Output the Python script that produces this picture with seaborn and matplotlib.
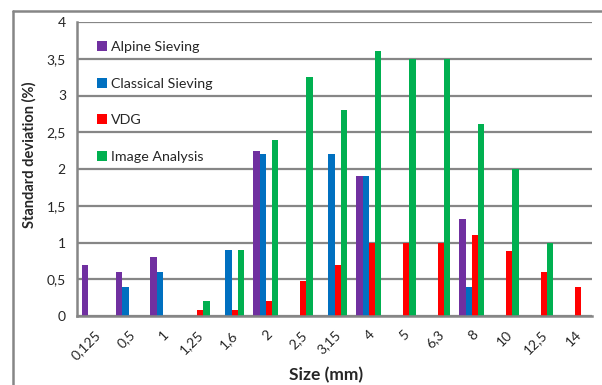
import numpy as np
import pandas as pd
import matplotlib
matplotlib.use("Agg")
import matplotlib.pyplot as plt
from matplotlib.lines import Line2D
from matplotlib.patches import Patch
import seaborn as sns

sizes = ["0,125", "0,5", "1", "1,25", "1,6", "2", "2,5", "3,15", "4", "5", "6,3", "8", "10", "12,5", "14"]
methods = ["Alpine Sieving", "Classical Sieving", "VDG", "Image Analysis"]
colors = ["#7030A0", "#0070C0", "#FF0000", "#00B050"]

alpine = [0.7, 0.6, 0.8, np.nan, np.nan, 2.25, np.nan, np.nan, 1.9, np.nan, np.nan, 1.32, np.nan, np.nan, np.nan]
classical = [np.nan, 0.4, 0.6, np.nan, 0.9, 2.2, np.nan, 2.2, 1.9, np.nan, np.nan, 0.4, np.nan, np.nan, np.nan]
vdg = [np.nan, np.nan, np.nan, 0.08, 0.08, 0.2, 0.48, 0.7, 1.0, 1.0, 1.0, 1.1, 0.89, 0.6, 0.4]
image = [np.nan, np.nan, np.nan, 0.2, 0.9, 2.4, 3.25, 2.8, 3.6, 3.5, 3.5, 2.61, 2.0, 1.0, np.nan]

y_ticks = [0, 0.5, 1, 1.5, 2, 2.5, 3, 3.5, 4]
y_tick_labels = ["0", "0,5", "1", "1,5", "2", "2,5", "3", "3,5", "4"]

rows = []
for m, vals in zip(methods, [alpine, classical, vdg, image]):
    for s, v in zip(sizes, vals):
        rows.append({"size": s, "method": m, "value": v})
df = pd.DataFrame(rows).dropna()

sns.set_style("white")
plt.rcParams["font.family"] = ["Lato", "DejaVu Sans"]

W, H = 602, 385
fig = plt.figure(figsize=(W / 100, H / 100), dpi=100)
ax = fig.add_axes([77 / W, 1 - 316 / H, (592 - 77) / W, (316 - 22) / H])

grid_c = "#868686"
sns.barplot(data=df, x="size", y="value", hue="method", order=sizes, hue_order=methods,
            palette=colors, width=0.727, saturation=1, ax=ax, legend=False, linewidth=0, errorbar=None)

ax.set_xlim(-0.5, len(sizes) - 0.5)
ax.set_ylim(0, 4)
ax.set_yticks(y_ticks)
ax.set_yticklabels(y_tick_labels)
ax.yaxis.grid(True, color=grid_c, linewidth=1.6)
ax.set_axisbelow(True)
for sp in ["top", "right"]:
    ax.spines[sp].set_visible(False)
for sp in ["left", "bottom"]:
    ax.spines[sp].set_color(grid_c)
    ax.spines[sp].set_linewidth(1.8)

ax.set_xticks(range(len(sizes)))
ax.set_xticklabels(sizes, rotation=45, ha="right", rotation_mode="anchor", fontsize=10)
ax.set_xticks(np.arange(-0.5, len(sizes), 1.0), minor=True)
ax.tick_params(axis="x", which="major", length=0, pad=9)
ax.tick_params(axis="x", which="minor", length=4, width=1.6, color=grid_c, direction="out")
ax.tick_params(axis="y", length=4, width=1.6, color=grid_c, direction="out", labelsize=10, pad=4)

ax.set_xlabel("")
ax.set_ylabel("")
fig.text(326 / W, 1 - 375 / H, "Size (mm)", fontsize=12.5, fontweight="bold", ha="center", va="center")
fig.text(29 / W, 1 - 155 / H, "Standard deviation (%)", fontsize=10.5, fontweight="bold",
         ha="center", va="center", rotation=90)

handles = [Patch(facecolor=c, edgecolor="none") for c in colors]
leg = ax.legend(handles, methods, loc="upper left", bbox_to_anchor=(97 / W, 1 - 41 / H),
                bbox_transform=fig.transFigure, frameon=False, fontsize=10.3,
                handlelength=0.7, handleheight=0.7, handletextpad=0.3,
                labelspacing=1.72, borderaxespad=0, borderpad=0)

fig.add_artist(Line2D([13 / W, 1], [1 - 11 / H, 1 - 11 / H], transform=fig.transFigure, color=grid_c, lw=1.8))
fig.add_artist(Line2D([13 / W, 13 / W], [0, 1 - 11 / H], transform=fig.transFigure, color=grid_c, lw=1.8))

fig.savefig("out.png", dpi=100)
